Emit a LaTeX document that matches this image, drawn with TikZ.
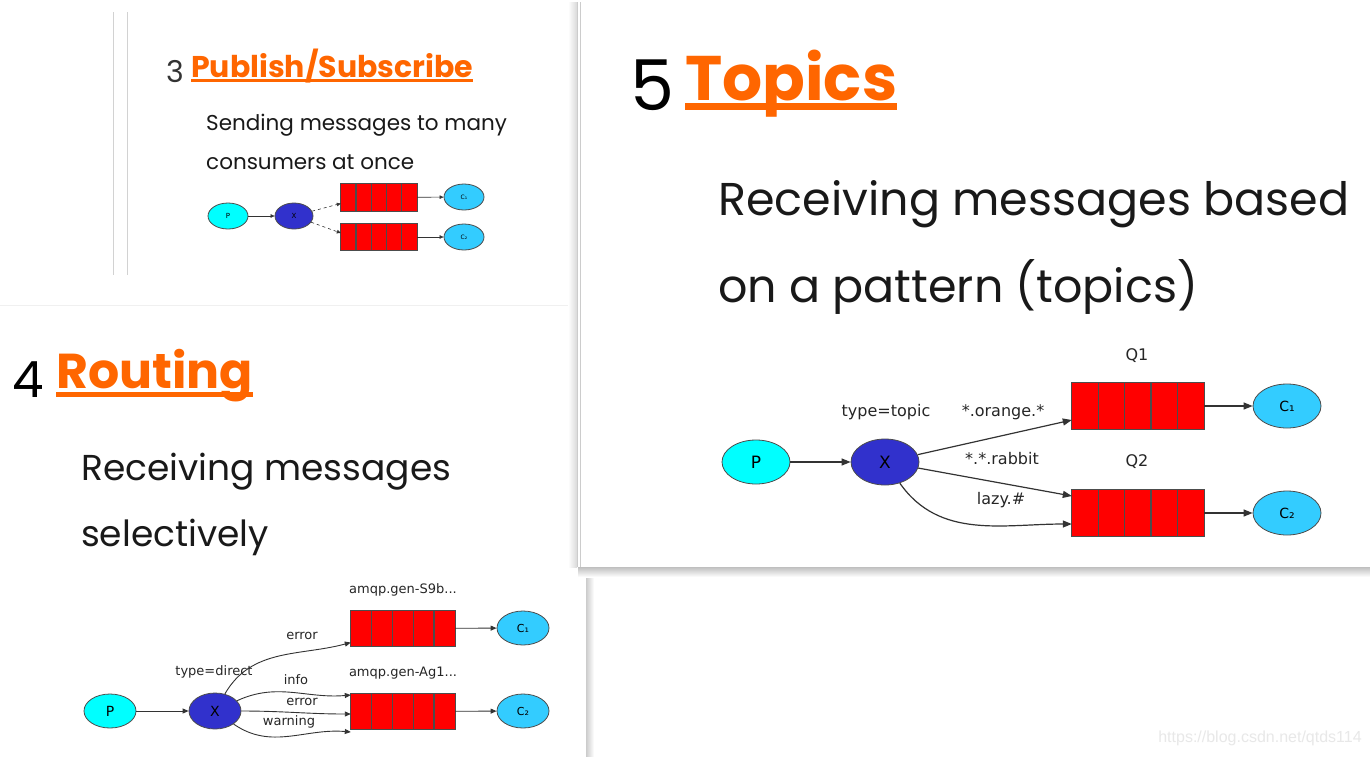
\documentclass[tikz,border=0pt]{standalone}
\usepackage{fontspec}
\setmainfont{Poppins}
\newfontfamily\gvfont{DejaVu Sans}
\newfontfamily\wmfont{Liberation Sans}
\usetikzlibrary{positioning}
\usetikzlibrary{shapes.geometric}
\usetikzlibrary{arrows.meta}
\usepackage{xcolor}
\definecolor{titleorange}{HTML}{FF6600}
\definecolor{pcyan}{HTML}{00FFFF}
\definecolor{xblue}{HTML}{3131CC}
\definecolor{ccyan}{HTML}{33CCFF}
\definecolor{qred}{HTML}{FF0000}
\newcommand{\fsz}[1]{\fontsize{#1}{#1}\selectfont}
% queue cells: #1 queue node, #2 cell width
\newcommand{\qcells}[2]{\draw[qline] (#1.north west) rectangle (#1.south east)
  ([xshift=#2]#1.north west) -- ([xshift=#2]#1.south west)
  ([xshift=2*#2]#1.north west) -- ([xshift=2*#2]#1.south west)
  ([xshift=3*#2]#1.north west) -- ([xshift=3*#2]#1.south west)
  ([xshift=4*#2]#1.north west) -- ([xshift=4*#2]#1.south west);}

\begin{document}
\begin{tikzpicture}[x=1pt, y=-1pt,
    prod/.style={ellipse, draw=black!70, line width=0.8pt, fill=pcyan, inner sep=0pt},
    exch/.style={ellipse, draw=black!70, line width=0.8pt, fill=xblue, inner sep=0pt},
    cons/.style={ellipse, draw=black!70, line width=0.8pt, fill=ccyan, inner sep=0pt},
    queue/.style={rectangle, fill=qred, inner sep=0pt},
    qline/.style={draw=black!70, line width=1.2pt},
    edge/.style={-{Triangle[length=6pt,width=5pt]}, black!80},
    lbl/.style={font=\gvfont, text=black!85, inner sep=0pt},
    num/.style={anchor=base west, inner sep=0pt},
    title/.style={text=titleorange, font=\bfseries, anchor=base west, inner sep=0pt},
    body/.style={anchor=base west, inner sep=0pt, text=black!90},
    uline/.style={titleorange, line width=3pt}
]
    \useasboundingbox[fill=white] (0,0) rectangle (1370,756);

    % Panel borders
    \draw[gray!35] (113,12) -- (113,275);
    \draw[gray!35] (127,12) -- (127,275);
    \draw[gray!12] (0,305) -- (578,305);
    \shade[left color=white, right color=gray!30] (568,2) rectangle (577,567);
    \shade[left color=gray!40, right color=white] (586,567) rectangle (594,756);
    \shade[top color=gray!50, bottom color=white] (578,567) rectangle (1370,577);
    \fill[white] (578,2) rectangle (1370,567);
    \draw[gray!40] (577,2) -- (577,567);
    \draw[gray!40] (580,2) -- (580,567);

    % 3 Publish/Subscribe
    \node[num, font=\fsz{30}, text=black!80] (n3) at (166,82) {3};
    \node[title, font=\fsz{30}\bfseries] (t3) at (191,77) {Publish/Subscribe};
    \draw[uline, line width=3pt] ([yshift=-3pt]t3.base west) -- ([yshift=-3pt]t3.base east);
    \node[body, font=\fsz{21.5}] (b3a) at (206,130) {Sending messages to many};
    \node[body, font=\fsz{21.5}] (b3b) at (206,169) {consumers at once};

    \begin{scope}[edge/.append style={-{Triangle[length=4pt,width=3.5pt]}, line width=0.6pt}]
    \node[prod, minimum width=40pt, minimum height=26pt, font=\gvfont\fsz{7}] (p3) at (228,216) {P};
    \node[exch, minimum width=38pt, minimum height=26pt, font=\gvfont\fsz{7}] (x3) at (294,216) {X};
    \node[queue, minimum width=76pt, minimum height=27pt] (q31) at (379,197.5) {};
    \node[queue, minimum width=76pt, minimum height=26pt] (q32) at (379,237) {};
    \qcells{q31}{15.2pt} \qcells{q32}{15.2pt}
    \node[cons, minimum width=40pt, minimum height=26pt, font=\gvfont\fsz{6}] (c31) at (464,197) {C₁};
    \node[cons, minimum width=40pt, minimum height=26pt, font=\gvfont\fsz{6}] (c32) at (464,237) {C₂};
    \draw[edge] (p3) -- (x3);
    \draw[edge, dashed] (x3) -- ([yshift=-6pt]q31.west);
    \draw[edge, dashed] (x3) -- ([yshift=4pt]q32.west);
    \draw[edge] (q31) -- (c31);
    \draw[edge] (q32) -- (c32);
    \end{scope}

    % 4 Routing
    \node[num, font=\fsz{50}, text=black] (n4) at (12,397) {4};
    \node[title, font=\fsz{49}\bfseries] (t4) at (56,388) {Routing};
    \draw[uline, line width=4.5pt] ([yshift=-6.5pt]t4.base west) -- ([yshift=-6.5pt]t4.base east);
    \node[body, font=\fsz{36}] (b4a) at (81,480) {Receiving messages};
    \node[body, font=\fsz{36}] (b4b) at (81,546) {selectively};

    \begin{scope}[lbl/.append style={font=\gvfont\fsz{13}}, edge/.append style={line width=0.9pt}]
    \node[prod, minimum width=52pt, minimum height=34pt, font=\gvfont\fsz{14}] (p4) at (110,711) {P};
    \node[exch, minimum width=52pt, minimum height=36pt, font=\gvfont\fsz{14}] (x4) at (215,711) {X};
    \node[queue, minimum width=104pt, minimum height=35pt] (q41) at (403,628.5) {};
    \node[queue, minimum width=104pt, minimum height=35pt] (q42) at (403,711.5) {};
    \qcells{q41}{20.8pt} \qcells{q42}{20.8pt}
    \node[cons, minimum width=52pt, minimum height=34pt, font=\gvfont\fsz{11}] (c41) at (523,628) {C₁};
    \node[cons, minimum width=52pt, minimum height=34pt, font=\gvfont\fsz{11}] (c42) at (523,711) {C₂};
    \node[lbl] (g41) at (403,590) {amqp.gen-S9b...};
    \node[lbl] (g42) at (403,673) {amqp.gen-Ag1...};
    \node[lbl] (ty4) at (214,672) {type=direct};
    \draw[edge] (p4) -- (x4);
    \draw[edge] (x4) to[out=60, in=195] ([yshift=-14pt]q41.west);
    \draw[edge] (x4) to[out=25, in=185] ([yshift=16.5pt]q42.west);
    \draw[edge] (x4) to[out=0, in=180] ([yshift=-2.5pt]q42.west);
    \draw[edge] (x4) to[out=-35, in=175] ([yshift=-20.5pt]q42.west);
    \node[lbl] (e4) at (302,636) {error};
    \node[lbl] (i4) at (296,680) {info};
    \node[lbl] (r4) at (302,702) {error};
    \node[lbl] (w4) at (289,722) {warning};
    \draw[edge] (q41) -- (c41);
    \draw[edge] (q42) -- (c42);
    \end{scope}

    % 5 Topics
    \node[num, font=\fsz{70}, text=black] (n5) at (630,110) {5};
    \node[title, font=\fsz{63}\bfseries] (t5) at (685,100) {Topics};
    \draw[uline, line width=7pt] ([yshift=-6pt]t5.base west) -- ([yshift=-6pt]t5.base east);
    \node[body, font=\fsz{46}] (b5a) at (718,215) {Receiving messages based};
    \node[body, font=\fsz{46}] (b5b) at (718,302) {on a pattern (topics)};

    \begin{scope}[lbl/.append style={font=\gvfont\fsz{16}}, edge/.append style={-{Triangle[length=9pt,width=7pt]}, line width=1.2pt}]
    \node[prod, minimum width=68pt, minimum height=44pt, font=\gvfont\fsz{17}] (p5) at (756,462) {P};
    \node[exch, minimum width=68pt, minimum height=46pt, font=\gvfont\fsz{17}] (x5) at (885,462) {X};
    \node[queue, minimum width=132pt, minimum height=46pt] (q51) at (1138,406) {};
    \node[queue, minimum width=132pt, minimum height=46pt] (q52) at (1138,513) {};
    \qcells{q51}{26.4pt} \qcells{q52}{26.4pt}
    \node[cons, minimum width=68pt, minimum height=44pt, font=\gvfont\fsz{14}] (c51) at (1287,406) {C₁};
    \node[cons, minimum width=68pt, minimum height=44pt, font=\gvfont\fsz{14}] (c52) at (1287,513) {C₂};
    \node[lbl] (g51) at (1137,356) {Q1};
    \node[lbl] (g52) at (1137,462) {Q2};
    \node[lbl] (ty5) at (886,412) {type=topic};
    \node[lbl] (o5) at (1003,412) {*.orange.*};
    \node[lbl] (r5) at (1002,459) {*.*.rabbit};
    \node[lbl] (z5) at (1001,500) {lazy.\#};
    \draw[edge] (p5) -- (x5);
    \draw[edge] (x5) -- ([yshift=-14pt]q51.west);
    \draw[edge] (x5) -- ([yshift=17pt]q52.west);
    \draw[edge] (x5) to[out=-55, in=180] ([yshift=-11pt]q52.west);
    \draw[edge] (q51) -- (c51);
    \draw[edge] (q52) -- (c52);
    \end{scope}

    % Watermark
    \node[font=\wmfont\fsz{16}, text=gray!18, inner sep=0pt] (wm) at (1260,738) {https://blog.csdn.net/qtds114};
\end{tikzpicture}
\end{document}
